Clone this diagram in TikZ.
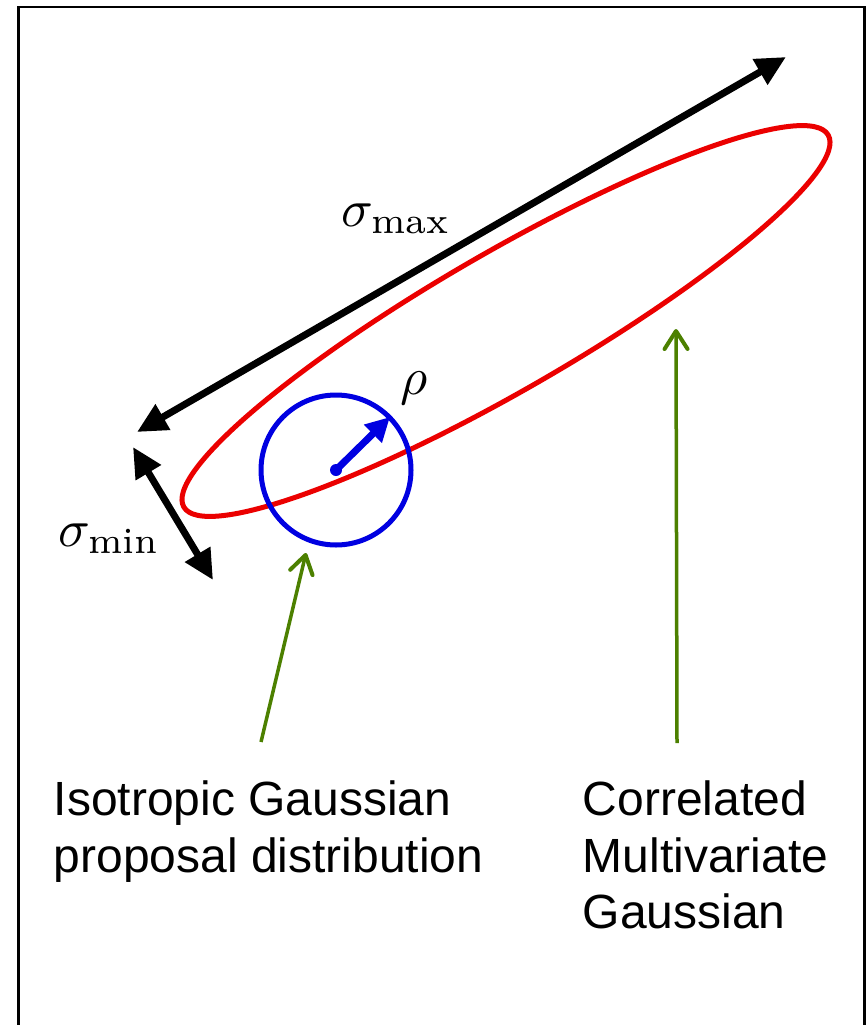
\documentclass[tikz,border=0pt]{standalone}
\usepackage{graphicx}
\usepackage{fontspec}
\newfontfamily\arialfont{Liberation Sans}
\usetikzlibrary{arrows.meta}
\definecolor{pgreen}{RGB}{76,128,0}
\definecolor{ered}{RGB}{235,0,0}
\definecolor{cblue}{RGB}{0,0,225}
\newcommand{\bigmath}[1]{\scalebox{5.25}{$#1$}}
\begin{document}
\begin{tikzpicture}[x=1pt,y=-1pt,
  dimarrow/.style={line width=7pt, {Triangle[length=30pt,width=28pt]}-{Triangle[length=30pt,width=28pt]}},
  pointer/.style={draw=pgreen, line width=3.5pt, -{Straight Barb[length=18pt,width=23pt,line width=4pt,round]}},
  mathlabel/.style={inner sep=0pt, anchor=base west},
  caption/.style={inner sep=0pt, anchor=north west, align=left, font=\arialfont\fontsize{48}{56.5}\selectfont}]
\useasboundingbox (0,0) rectangle (867,1025);
% frame
\draw[line width=2.5pt] (18.5,1035) -- (18.5,7) -- (864.5,7) -- (864.5,1035);
% coordinates
\coordinate (ec) at (506,321);
\coordinate (cc) at (336,470);
\coordinate (maxA) at (137,432);
\coordinate (maxB) at (786,57);
\coordinate (minA) at (133,447);
\coordinate (minB) at (213,580);
\coordinate (rhotip) at (390,417);
\coordinate (p1s) at (261,742);
\coordinate (p1e) at (306,553);
\coordinate (p2s) at (677,743);
\coordinate (p2e) at (676,329);
% correlated gaussian
\draw[ered, line width=5pt, shift={(ec)}, rotate=30] (0,0) ellipse [x radius=372pt, y radius=69pt];
% isotropic proposal
\draw[cblue, line width=5pt] (cc) circle [radius=75pt];
\fill[cblue] (cc) circle [radius=6pt];
\draw[cblue, line width=7pt, -{Triangle[length=24pt,width=24pt]}] (cc) -- (rhotip);
% sigma arrows
\draw[dimarrow] (maxA) -- (maxB);
\draw[dimarrow] (minA) -- (minB);
% labels
\node[mathlabel] (smax) at (341,226) {\bigmath{\sigma_{\max}}};
\node[mathlabel] (smin) at (58,546) {\bigmath{\sigma_{\min}}};
\node[mathlabel] (rho) at (400,394) {\bigmath{\rho}};
% pointers
\draw[pointer] (p1s) -- (p1e);
\draw[pointer] (p2s) -- (p2e);
% captions
\node[caption] (cap1) at (53.5,781) {Isotropic Gaussian\\proposal distribution};
\node[caption] (cap2) at (582.5,781) {Correlated\\Multivariate\\Gaussian};
\end{tikzpicture}
\end{document}
